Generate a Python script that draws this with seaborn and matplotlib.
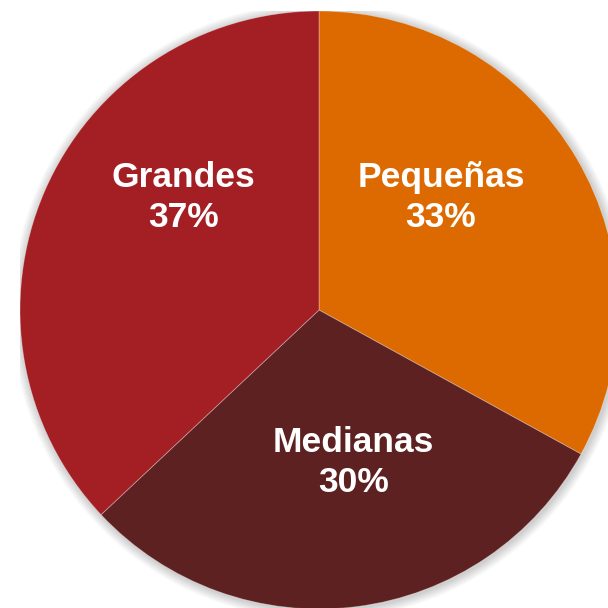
import matplotlib
matplotlib.use("Agg")
import matplotlib.pyplot as plt
from matplotlib.patches import Circle
import seaborn as sns

sns.set_theme(style="white")
plt.rcParams['font.family'] = ['Liberation Sans', 'DejaVu Sans']

categories = ["Pequeñas", "Medianas", "Grandes"]
values = [33, 30, 37]
colors = sns.color_palette(["#DC6A00", "#5E2121", "#A31F24"])

fig = plt.figure(figsize=(6.08, 6.08), dpi=100)
fig.patch.set_facecolor("white")
ax = fig.add_axes([20/608, -1/608, 598/608, 598/608])

wedges, _ = ax.pie(values, colors=colors, startangle=90, counterclock=False,
                   radius=1.0, wedgeprops=dict(edgecolor=(1, 1, 1, 0.35), linewidth=0.6))
for w in wedges:
    w.set_zorder(2)

# soft shadow
for k in range(8):
    ax.add_patch(Circle((0.004, -0.004), 1.0 + 0.004 * (k + 1), color="black",
                        alpha=0.025, lw=0, zorder=0))

ax.set_xlim(-1, 1)
ax.set_ylim(-1, 1)
ax.set_aspect("equal")
ax.axis("off")

label_pos = [(0.408, 0.377), (0.114, -0.51), (-0.452, 0.377)]
for cat, v, (x, y) in zip(categories, values, label_pos):
    ax.text(x, y, f"{cat}\n{v}%", ha="center", va="center", color="white",
            fontsize=25.5, fontweight="bold", linespacing=1.28, zorder=3)

fig.savefig("out.png", dpi=100, facecolor="white")
